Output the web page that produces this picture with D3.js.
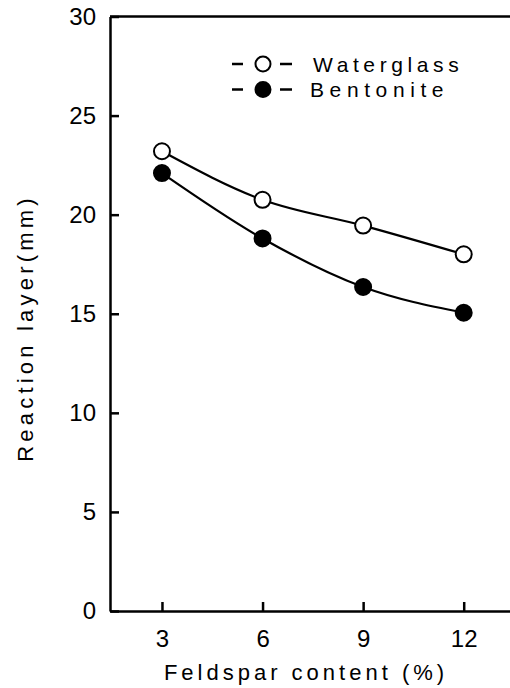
<!DOCTYPE html>
<html>
<head>
<meta charset="utf-8">
<script src="https://cdn.jsdelivr.net/npm/d3@7"></script>
<style>
	body { margin: 0; background: #fff; }
	svg { display: block; font-family: "Liberation Sans", Arial, sans-serif; }
	.axis path, .axis line { stroke: #000; stroke-width: 2.5px; }
	.axis text { font-size: 24px; fill: #000; font-family: "Liberation Sans", Arial, sans-serif; }
</style>
</head>
<body>
<svg width="510" height="688"></svg>
<script>
// data
var feldspar = [3, 6, 9, 12];
var waterglass = [23.2, 20.75, 19.45, 18.0];
var bentonite = [22.1, 18.8, 16.35, 15.05];
var yTicks = [0, 5, 10, 15, 20, 25, 30];
var series = [
	{name: "Waterglass", values: waterglass, fill: "#fff"},
	{name: "Bentonite", values: bentonite, fill: "#000"}
];

var svg = d3.select("svg");

var x = d3.scaleLinear().domain([1.45, 13.5]).range([110, 514]);
var y = d3.scaleLinear().domain([0, 30]).range([611, 16.5]);

// top border
svg.append("line")
	.attr("x1", x(1.45)).attr("x2", x(13.5))
	.attr("y1", y(30)).attr("y2", y(30))
	.attr("stroke", "#000").attr("stroke-width", 2.5);

svg.append("g")
	.attr("class", "axis")
	.attr("transform", "translate(0," + y(0) + ")")
	.call(d3.axisBottom(x).tickValues(feldspar).tickSizeInner(-9).tickSizeOuter(0).tickPadding(19));

svg.append("g")
	.attr("class", "axis")
	.attr("transform", "translate(" + x(1.45) + ",0)")
	.call(d3.axisLeft(y).tickValues(yTicks).tickSizeInner(-9).tickSizeOuter(0).tickPadding(14));

// axis titles
svg.append("text")
	.attr("x", 306).attr("y", 680)
	.attr("text-anchor", "middle")
	.attr("font-size", 22)
	.attr("letter-spacing", 4)
	.text("Feldspar content (%)");

svg.append("text")
	.attr("transform", "translate(33,328) rotate(-90)")
	.attr("text-anchor", "middle")
	.attr("font-size", 22)
	.attr("letter-spacing", 4.2)
	.text("Reaction layer(mm)");

var line = d3.line()
	.x(function(d, i) { return x(feldspar[i]); })
	.y(function(d) { return y(d); })
	.curve(d3.curveMonotoneX);

var g = svg.selectAll(".series")
	.data(series)
	.enter().append("g")
	.attr("class", "series");

g.append("path")
	.attr("d", function(d) { return line(d.values); })
	.attr("fill", "none")
	.attr("stroke", "#000")
	.attr("stroke-width", 2.2);

g.selectAll("circle")
	.data(function(d) { return d.values.map(function(v, i) { return {x: feldspar[i], y: v, fill: d.fill}; }); })
	.enter().append("circle")
	.attr("cx", function(d) { return x(d.x); })
	.attr("cy", function(d) { return y(d.y); })
	.attr("r", 8)
	.attr("fill", function(d) { return d.fill; })
	.attr("stroke", "#000")
	.attr("stroke-width", 2);

// legend
var legend = svg.selectAll(".legend")
	.data(series)
	.enter().append("g")
	.attr("class", "legend")
	.attr("transform", function(d, i) { return "translate(263," + (64 + i * 25.5) + ")"; });

legend.append("line").attr("x1", -31).attr("x2", -20).attr("stroke", "#000").attr("stroke-width", 2.5);
legend.append("line").attr("x1", 17).attr("x2", 29).attr("stroke", "#000").attr("stroke-width", 2.5);
legend.append("circle")
	.attr("r", 7.5)
	.attr("fill", function(d) { return d.fill; })
	.attr("stroke", "#000")
	.attr("stroke-width", 2);
legend.append("text")
	.attr("x", function(d, i) { return i === 0 ? 50 : 47; })
	.attr("y", 7.5)
	.attr("font-size", 21)
	.attr("letter-spacing", function(d, i) { return i === 0 ? 4.6 : 5.6; })
	.text(function(d) { return d.name; });
</script>
</body>
</html>
